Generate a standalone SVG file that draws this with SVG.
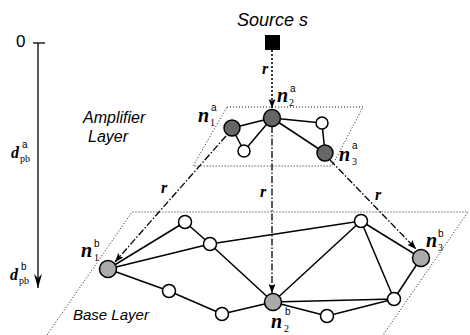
<svg xmlns="http://www.w3.org/2000/svg" width="470" height="335" viewBox="0 0 470 335">
<defs>
<style>
.plane{fill:none;stroke:#000;stroke-width:0.9;stroke-dasharray:1,2}
.edge{stroke:#000;stroke-width:1.5;fill:none}
.dd{stroke:#000;stroke-width:1.3;fill:none;stroke-dasharray:7,2,1.5,2}
.amp{fill:#666;stroke:#000;stroke-width:1.5}
.base{fill:#aaa;stroke:#000;stroke-width:1.5}
.wht{fill:#fff;stroke:#000;stroke-width:1.5}
.sans{font-family:"Liberation Sans",Arial,sans-serif;font-style:italic;fill:#000}
.nl{font-family:"Liberation Serif","DejaVu Serif",serif;font-weight:bold;font-style:italic;font-size:20px}
.sup{font-family:"Liberation Sans",Arial,sans-serif;font-size:10px}
.sub{font-family:"Liberation Serif","DejaVu Serif",serif;font-size:10px}
.r{font-family:"Liberation Serif","DejaVu Serif",serif;font-weight:bold;font-style:italic;font-size:16px}
</style>
<marker id="ah" viewBox="0 0 10 10" refX="10" refY="5" markerWidth="9" markerHeight="7" preserveAspectRatio="none" markerUnits="userSpaceOnUse" orient="auto">
<path d="M0,0 L10,5 L0,10 L2,5 Z" fill="#000"/>
</marker>
<marker id="ah2" viewBox="0 0 10 10" refX="10" refY="5" markerWidth="14" markerHeight="8" preserveAspectRatio="none" markerUnits="userSpaceOnUse" orient="auto">
<path d="M0,0 L10,5 L0,10 L3,5 Z" fill="#000"/>
</marker>
</defs>
<rect width="470" height="335" fill="#fff"/>

<g id="axis">
<line x1="33" y1="43" x2="45" y2="43" stroke="#000" stroke-width="1.3"/>
<line x1="38" y1="43" x2="38" y2="288" stroke="#000" stroke-width="1.3" marker-end="url(#ah2)"/>
<text x="16" y="47" font-family="Liberation Sans, Arial, sans-serif" font-size="17">0</text>
<text x="11" y="158" class="r">d</text><text x="22" y="148" class="sup">a</text><text x="20" y="162" class="sub">pb</text>
<text x="10" y="280" class="r">d</text><text x="21" y="270" class="sup">b</text><text x="19" y="284" class="sub">pb</text>
</g>

<g id="planes">
<path class="plane" d="M227,107 L363,107 L332,166 L193,166 Z"/>
<path class="plane" d="M47,335 L132,212 L468,212 L383,335"/>
</g>

<text class="sans" x="237" y="26" font-size="18">Source s</text>
<text class="sans" x="83" y="123" font-size="16">Amplifier</text>
<text class="sans" x="88" y="142" font-size="16">Layer</text>
<text class="sans" x="73" y="320" font-size="15">Base Layer</text>

<g id="connectors">
<line x1="272" y1="50" x2="272" y2="108" stroke="#000" stroke-width="1.6" stroke-dasharray="2,2" marker-end="url(#ah)"/>
<line class="edge" x1="232" y1="128" x2="272" y2="118"/>
<line class="edge" x1="232" y1="128" x2="244" y2="151"/>
<line class="edge" x1="272" y1="118" x2="244" y2="151"/>
<line class="edge" x1="272" y1="118" x2="322" y2="123"/>
<line class="edge" x1="272" y1="118" x2="325" y2="153"/>
<line class="edge" x1="322" y1="123" x2="325" y2="153"/>

<line class="edge" x1="108" y1="269" x2="185" y2="222"/>
<line class="edge" x1="108" y1="269" x2="210" y2="244"/>
<line class="edge" x1="108" y1="269" x2="169" y2="291"/>
<line class="edge" x1="185" y1="222" x2="210" y2="244"/>
<line class="edge" x1="210" y1="244" x2="361" y2="221"/>
<line class="edge" x1="210" y1="244" x2="273" y2="302"/>
<line class="edge" x1="169" y1="291" x2="222" y2="314"/>
<line class="edge" x1="222" y1="314" x2="273" y2="302"/>
<line class="edge" x1="273" y1="302" x2="361" y2="221"/>
<line class="edge" x1="273" y1="302" x2="394" y2="299"/>
<line class="edge" x1="273" y1="302" x2="327" y2="316"/>
<line class="edge" x1="327" y1="316" x2="394" y2="299"/>
<line class="edge" stroke-width="1.2" x1="361" y1="221" x2="394" y2="299"/>
<line class="edge" x1="361" y1="221" x2="421" y2="258"/>
<line class="edge" x1="421" y1="258" x2="394" y2="299"/>

<line class="dd" x1="226" y1="136" x2="115" y2="262" marker-end="url(#ah)"/>
<line class="dd" x1="272" y1="126" x2="272" y2="293" marker-end="url(#ah)"/>
<line class="dd" x1="330" y1="160" x2="416" y2="249" marker-end="url(#ah)"/>
<text class="r" x="262" y="74">r</text>
<text class="r" x="161" y="193">r</text>
<text class="r" x="260" y="197">r</text>
<text class="r" x="375" y="200">r</text>
</g>

<g id="source"><rect x="265" y="35" width="15" height="15" fill="#000"/></g>

<g id="n1a"><circle class="amp" cx="232" cy="128" r="8"/><text class="nl" x="198" y="122">n</text><text class="sup" x="211" y="111">a</text><text class="sub" x="210" y="126">1</text></g>
<g id="n2a"><circle class="amp" cx="272" cy="118" r="8.5"/><text class="nl" x="277" y="102">n</text><text class="sup" x="290" y="92">a</text><text class="sub" x="289" y="106">2</text></g>
<g id="n3a"><circle class="amp" cx="325" cy="153" r="8"/><text class="nl" x="339" y="161">n</text><text class="sup" x="352" y="149">a</text><text class="sub" x="352" y="165">3</text></g>
<g id="a4"><circle class="wht" cx="322" cy="123" r="6"/></g>
<g id="a5"><circle class="wht" cx="244" cy="151" r="6"/></g>

<g id="n1b"><circle class="base" cx="108" cy="269" r="8.5"/><text class="nl" x="81" y="257">n</text><text class="sup" x="94" y="247">b</text><text class="sub" x="94" y="261">1</text></g>
<g id="n2b"><circle class="base" cx="273" cy="302" r="8.5"/><text class="nl" x="271" y="328">n</text><text class="sup" x="285" y="315">b</text><text class="sub" x="284" y="332">2</text></g>
<g id="n3b"><circle class="base" cx="421" cy="258" r="8.5"/><text class="nl" x="426" y="247">n</text><text class="sup" x="438" y="237">b</text><text class="sub" x="438" y="251">3</text></g>
<g id="b1"><circle class="wht" cx="185" cy="222" r="6.5"/></g>
<g id="b2"><circle class="wht" cx="210" cy="244" r="6.5"/></g>
<g id="b3"><circle class="wht" cx="169" cy="291" r="6.5"/></g>
<g id="b4"><circle class="wht" cx="222" cy="314" r="6.5"/></g>
<g id="b5"><circle class="wht" cx="361" cy="221" r="6.5"/></g>
<g id="b6"><circle class="wht" cx="394" cy="299" r="6.5"/></g>
<g id="b7"><circle class="wht" cx="327" cy="316" r="6.5"/></g>
</svg>
